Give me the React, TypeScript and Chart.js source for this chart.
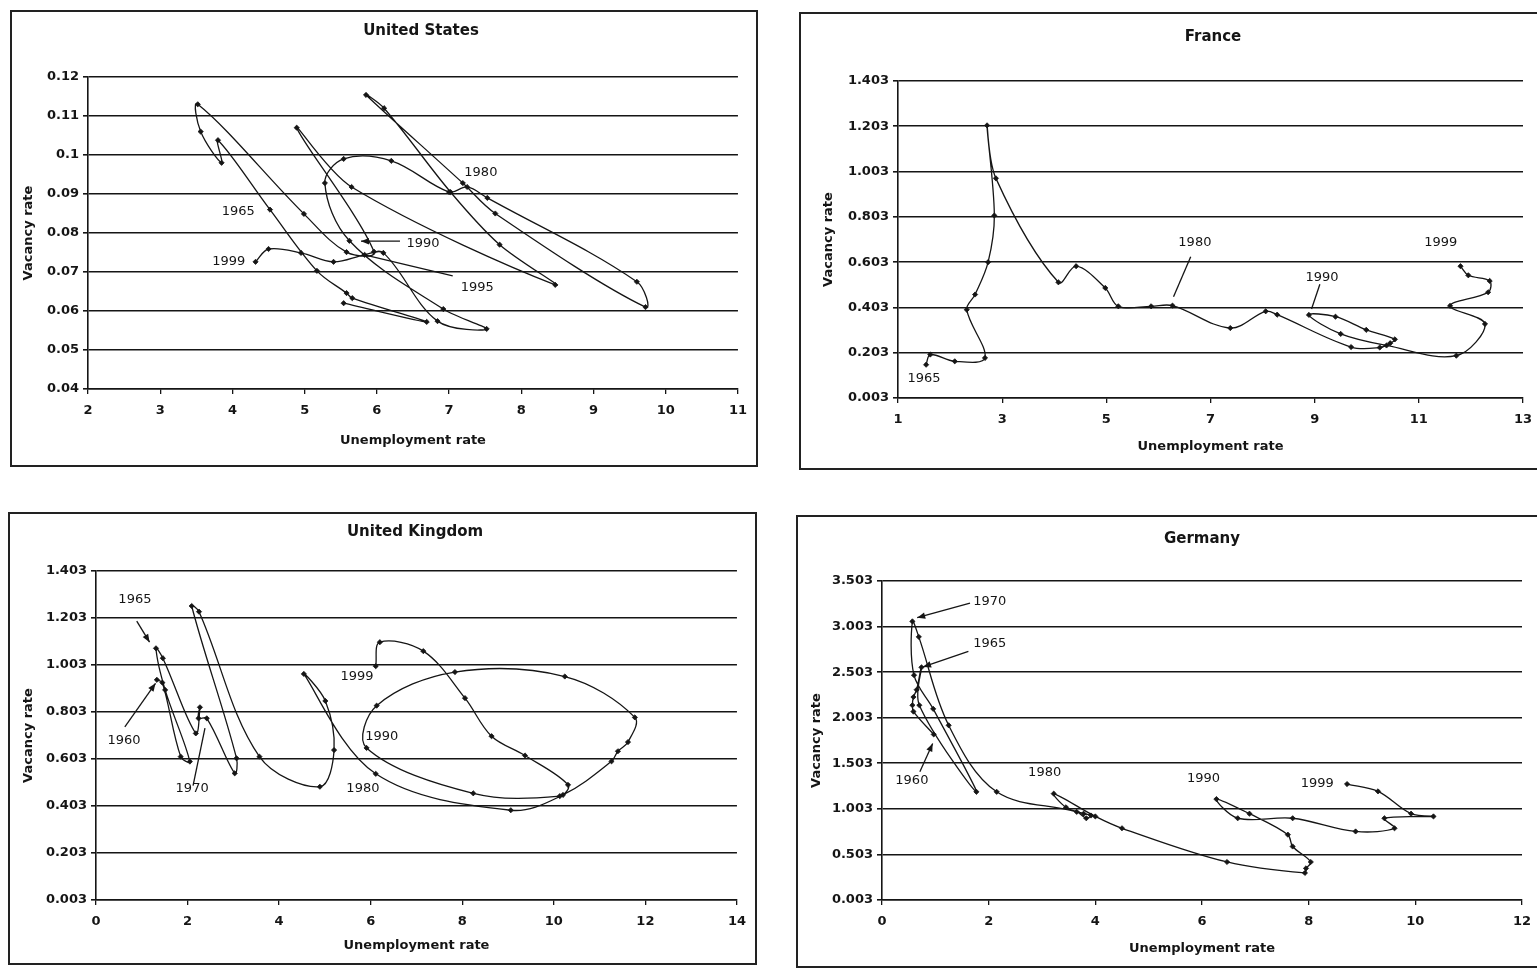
import React, { useEffect, useRef } from 'react';
import { Chart, registerables } from 'chart.js';

Chart.register(...registerables);

const FONT = '"DejaVu Sans", "Liberation Sans", sans-serif';
const INK = '#151515';

// ---------------- United States ----------------
const US_UNEMP = [5.54, 6.69, 5.66, 5.58, 5.17, 4.52, 3.80, 3.85, 3.56, 3.52, 4.99, 5.58, 5.96, 4.89, 5.65, 8.47, 7.70, 7.02, 6.10, 5.85, 7.19, 7.64, 9.72, 9.60, 7.53, 7.25, 7.00, 6.20, 5.54, 5.28, 5.62, 6.92, 7.52, 6.84, 6.09, 5.83, 5.40, 4.95, 4.50, 4.32];
const US_VAC = [0.062, 0.0572, 0.0633, 0.0646, 0.0703, 0.086, 0.1038, 0.098, 0.106, 0.113, 0.0849, 0.0751, 0.0752, 0.107, 0.0918, 0.0667, 0.077, 0.0905, 0.112, 0.1154, 0.0928, 0.085, 0.061, 0.0675, 0.089, 0.0918, 0.0905, 0.0985, 0.099, 0.0928, 0.078, 0.0605, 0.0554, 0.0574, 0.0749, 0.0744, 0.0726, 0.0749, 0.0759, 0.0726];
const US_X_TICKS = [2, 3, 4, 5, 6, 7, 8, 9, 10, 11];
const US_Y_TICKS = [0.04, 0.05, 0.06, 0.07, 0.08, 0.09, 0.1, 0.11, 0.12];
const US_Y_LABELS = ['0.04', '0.05', '0.06', '0.07', '0.08', '0.09', '0.1', '0.11', '0.12'];
const US_NOTES = [
  { t: '1965', x: 4.08, y: 0.0856 },
  { t: '1999', x: 3.95, y: 0.0726 },
  { t: '1980', x: 7.44, y: 0.0954 },
  { t: '1990', x: 6.64, y: 0.0774, line: [6.32, 0.0779, 5.78, 0.0779], head: true },
  { t: '1995', x: 7.39, y: 0.0659, line: [7.05, 0.0690, 5.80, 0.0745] },
];

// ---------------- France ----------------
const FR_UNEMP = [1.54, 1.62, 2.09, 2.67, 2.32, 2.48, 2.73, 2.85, 2.71, 2.88, 4.08, 4.42, 4.98, 5.23, 5.86, 6.27, 7.38, 8.06, 8.28, 9.70, 10.25, 10.45, 10.54, 9.99, 9.40, 8.89, 9.50, 10.38, 11.72, 12.27, 11.60, 12.33, 12.36, 11.95, 11.80];
const FR_VAC = [0.150, 0.195, 0.165, 0.180, 0.393, 0.460, 0.603, 0.809, 1.207, 0.973, 0.514, 0.585, 0.489, 0.408, 0.408, 0.411, 0.312, 0.386, 0.371, 0.228, 0.226, 0.245, 0.262, 0.304, 0.362, 0.370, 0.286, 0.235, 0.190, 0.330, 0.410, 0.470, 0.520, 0.545, 0.585];
const FR_X_TICKS = [1, 3, 5, 7, 9, 11, 13];
const FR_Y_TICKS = [0.003, 0.203, 0.403, 0.603, 0.803, 1.003, 1.203, 1.403];
const FR_Y_LABELS = ['0.003', '0.203', '0.403', '0.603', '0.803', '1.003', '1.203', '1.403'];
const FR_NOTES = [
  { t: '1965', x: 1.50, y: 0.087 },
  { t: '1980', x: 6.70, y: 0.69, line: [6.62, 0.627, 6.29, 0.45] },
  { t: '1990', x: 9.14, y: 0.535, line: [9.10, 0.505, 8.94, 0.396] },
  { t: '1999', x: 11.42, y: 0.69 },
];

// ---------------- United Kingdom ----------------
const UK_UNEMP = [1.33, 1.45, 1.85, 2.05, 1.51, 1.31, 1.46, 2.18, 2.27, 2.24, 2.42, 3.03, 3.07, 2.09, 2.25, 3.57, 4.89, 5.20, 5.01, 4.54, 6.11, 9.06, 10.20, 11.26, 11.40, 11.62, 11.77, 10.24, 7.84, 6.13, 5.91, 8.24, 10.13, 10.31, 9.37, 8.64, 8.06, 7.15, 6.20, 6.11];
const UK_VAC = [0.940, 0.928, 0.613, 0.592, 0.897, 1.074, 1.032, 0.712, 0.823, 0.776, 0.776, 0.542, 0.606, 1.254, 1.230, 0.613, 0.485, 0.641, 0.850, 0.965, 0.540, 0.385, 0.450, 0.593, 0.636, 0.675, 0.780, 0.954, 0.973, 0.830, 0.650, 0.457, 0.445, 0.493, 0.618, 0.700, 0.862, 1.062, 1.100, 0.998];
const UK_X_TICKS = [0, 2, 4, 6, 8, 10, 12, 14];
const UK_Y_TICKS = [0.003, 0.203, 0.403, 0.603, 0.803, 1.003, 1.203, 1.403];
const UK_Y_LABELS = ['0.003', '0.203', '0.403', '0.603', '0.803', '1.003', '1.203', '1.403'];
const UK_NOTES = [
  { t: '1965', x: 0.85, y: 1.28, line: [0.89, 1.19, 1.17, 1.10], head: true },
  { t: '1960', x: 0.61, y: 0.68, line: [0.63, 0.74, 1.30, 0.925], head: true },
  { t: '1970', x: 2.10, y: 0.475, line: [2.12, 0.49, 2.38, 0.734] },
  { t: '1999', x: 5.70, y: 0.952 },
  { t: '1990', x: 6.24, y: 0.697 },
  { t: '1980', x: 5.83, y: 0.475 },
];

// ---------------- Germany ----------------
const DE_UNEMP = [0.97, 0.59, 0.57, 0.59, 0.65, 0.74, 0.70, 1.77, 0.96, 0.60, 0.57, 0.69, 1.25, 2.15, 3.65, 3.83, 3.92, 3.78, 3.45, 3.22, 4.00, 4.50, 6.47, 7.93, 7.95, 8.04, 7.70, 7.61, 6.89, 6.27, 6.67, 7.70, 8.88, 9.61, 9.42, 10.34, 9.92, 9.30, 8.72];
const DE_VAC = [1.82, 2.07, 2.14, 2.23, 2.31, 2.556, 2.14, 1.19, 2.10, 2.47, 3.06, 2.89, 1.92, 1.19, 0.97, 0.90, 0.93, 0.95, 1.02, 1.17, 0.92, 0.79, 0.42, 0.30, 0.35, 0.42, 0.59, 0.72, 0.95, 1.11, 0.90, 0.90, 0.755, 0.79, 0.90, 0.92, 0.95, 1.195, 1.275];
const DE_X_TICKS = [0, 2, 4, 6, 8, 10, 12];
const DE_Y_TICKS = [0.003, 0.503, 1.003, 1.503, 2.003, 2.503, 3.003, 3.503];
const DE_Y_LABELS = ['0.003', '0.503', '1.003', '1.503', '2.003', '2.503', '3.003', '3.503'];
const DE_NOTES = [
  { t: '1970', x: 2.02, y: 3.28, line: [1.65, 3.26, 0.66, 3.10], head: true },
  { t: '1965', x: 2.02, y: 2.82, line: [1.62, 2.73, 0.77, 2.56], head: true },
  { t: '1960', x: 0.56, y: 1.31, line: [0.71, 1.41, 0.95, 1.72], head: true },
  { t: '1980', x: 3.05, y: 1.40 },
  { t: '1990', x: 6.03, y: 1.34 },
  { t: '1999', x: 8.16, y: 1.28 },
];

type Note = { t: string; x: number; y: number; line?: number[]; head?: boolean };

interface Layout {
  box: { left: number; top: number; width: number; height: number };
  area: { left: number; top: number; right: number; bottom: number };
  titleX: number; titleY: number; xTitleY: number; yTitleX: number;
}

interface Spec {
  title: string;
  u: number[]; v: number[];
  xTicks: number[]; yTicks: number[]; yLabels: string[];
  notes: Note[];
  layout: Layout;
}

const BORDER = 2;

const PANELS: Spec[] = [
  {
    title: 'United States', u: US_UNEMP, v: US_VAC, xTicks: US_X_TICKS, yTicks: US_Y_TICKS, yLabels: US_Y_LABELS, notes: US_NOTES,
    layout: { box: { left: 10, top: 10, width: 748, height: 457 }, area: { left: 88, top: 77, right: 738, bottom: 389 }, titleX: 421, titleY: 31, xTitleY: 441, yTitleX: 29 },
  },
  {
    title: 'France', u: FR_UNEMP, v: FR_VAC, xTicks: FR_X_TICKS, yTicks: FR_Y_TICKS, yLabels: FR_Y_LABELS, notes: FR_NOTES,
    layout: { box: { left: 799, top: 12, width: 745, height: 458 }, area: { left: 898, top: 81, right: 1523, bottom: 398 }, titleX: 1213, titleY: 37, xTitleY: 447, yTitleX: 829 },
  },
  {
    title: 'United Kingdom', u: UK_UNEMP, v: UK_VAC, xTicks: UK_X_TICKS, yTicks: UK_Y_TICKS, yLabels: UK_Y_LABELS, notes: UK_NOTES,
    layout: { box: { left: 8, top: 512, width: 749, height: 453 }, area: { left: 96, top: 571, right: 737, bottom: 900 }, titleX: 415, titleY: 532, xTitleY: 946, yTitleX: 29 },
  },
  {
    title: 'Germany', u: DE_UNEMP, v: DE_VAC, xTicks: DE_X_TICKS, yTicks: DE_Y_TICKS, yLabels: DE_Y_LABELS, notes: DE_NOTES,
    layout: { box: { left: 796, top: 515, width: 748, height: 453 }, area: { left: 882, top: 581, right: 1522, bottom: 900 }, titleX: 1202, titleY: 539, xTitleY: 949, yTitleX: 817 },
  },
];

function textPlugin(spec: Spec, ox: number, oy: number) {
  return {
    id: 'panelText',
    afterDatasetsDraw(chart: any) {
      const ctx = chart.ctx;
      const xs = chart.scales.x;
      const ys = chart.scales.y;
      ctx.save();
      ctx.fillStyle = INK;
      ctx.strokeStyle = INK;
      ctx.lineWidth = 1.3;
      ctx.font = `13px ${FONT}`;
      ctx.textAlign = 'center';
      ctx.textBaseline = 'middle';
      for (const n of spec.notes) {
        ctx.fillText(n.t, xs.getPixelForValue(n.x), ys.getPixelForValue(n.y));
        if (n.line) {
          const x1 = xs.getPixelForValue(n.line[0]);
          const y1 = ys.getPixelForValue(n.line[1]);
          const x2 = xs.getPixelForValue(n.line[2]);
          const y2 = ys.getPixelForValue(n.line[3]);
          ctx.beginPath();
          ctx.moveTo(x1, y1);
          ctx.lineTo(x2, y2);
          ctx.stroke();
          if (n.head) {
            const a = Math.atan2(y2 - y1, x2 - x1);
            const L = 8, W = 3.2;
            ctx.beginPath();
            ctx.moveTo(x2, y2);
            ctx.lineTo(x2 - L * Math.cos(a) + W * Math.sin(a), y2 - L * Math.sin(a) - W * Math.cos(a));
            ctx.lineTo(x2 - L * Math.cos(a) - W * Math.sin(a), y2 - L * Math.sin(a) + W * Math.cos(a));
            ctx.closePath();
            ctx.fill();
          }
        }
      }
      ctx.font = `bold 15px ${FONT}`;
      ctx.fillText(spec.title, spec.layout.titleX - ox, spec.layout.titleY - oy);
      ctx.restore();
    },
  };
}

function Panel({ spec }: { spec: Spec }) {
  const ref = useRef<HTMLCanvasElement | null>(null);
  const L = spec.layout;
  const ox = L.box.left + BORDER;
  const oy = L.box.top + BORDER;
  const W = L.box.width - 2 * BORDER;
  const H = L.box.height - 2 * BORDER;

  useEffect(() => {
    const canvas = ref.current;
    if (!canvas) return;
    const area = {
      left: L.area.left - ox,
      top: L.area.top - oy,
      right: L.area.right - ox,
      bottom: L.area.bottom - oy,
    };
    const axisTitleLH = 13 * 1.2;
    const tickFont = { family: FONT, size: 13, weight: 'bold' as const };
    const titleFont = { family: FONT, size: 13, weight: 'bold' as const };
    const chart = new Chart(canvas, {
      type: 'scatter',
      data: {
        datasets: [
          {
            data: spec.u.map((x, i) => ({ x, y: spec.v[i] })),
            showLine: true,
            borderColor: INK,
            borderWidth: 1.3,
            tension: 0.35,
            pointStyle: 'rectRot',
            pointRadius: 2.6,
            pointBackgroundColor: INK,
            pointBorderColor: INK,
            pointBorderWidth: 0.8,
            fill: false,
          } as any,
        ],
      },
      options: {
        responsive: false,
        maintainAspectRatio: false,
        animation: false,
        events: [],
        layout: { padding: { left: 0, top: area.top, right: W - area.right, bottom: 0 } },
        plugins: {
          legend: { display: false },
          tooltip: { enabled: false },
          title: { display: false },
        },
        scales: {
          x: {
            type: 'linear',
            min: spec.xTicks[0],
            max: spec.xTicks[spec.xTicks.length - 1],
            afterBuildTicks: (s: any) => {
              s.ticks = spec.xTicks.map((value) => ({ value }));
            },
            afterFit: (s: any) => {
              s.height = H - area.bottom;
            },
            ticks: {
              font: tickFont,
              color: INK,
              padding: 9,
              maxRotation: 0,
              autoSkip: false,
              callback: (v: any) => String(v),
            },
            grid: { drawOnChartArea: false, drawTicks: true, tickLength: 5, color: INK, lineWidth: 1.3 },
            border: { display: true, color: INK, width: 1.6 },
            title: {
              display: true,
              text: 'Unemployment rate',
              font: titleFont,
              color: INK,
              padding: { top: 0, bottom: H - (L.xTitleY - oy) - axisTitleLH / 2 },
            },
          },
          y: {
            type: 'linear',
            min: spec.yTicks[0],
            max: spec.yTicks[spec.yTicks.length - 1],
            afterBuildTicks: (s: any) => {
              s.ticks = spec.yTicks.map((value) => ({ value }));
            },
            afterFit: (s: any) => {
              s.width = area.left;
            },
            ticks: {
              font: tickFont,
              color: INK,
              padding: 4,
              autoSkip: false,
              callback: (_v: any, i: number) => spec.yLabels[i],
            },
            grid: { color: INK, lineWidth: 1.6, drawTicks: true, tickLength: 5 },
            border: { display: true, color: INK, width: 1.6 },
            title: {
              display: true,
              text: 'Vacancy rate',
              font: titleFont,
              color: INK,
              padding: { top: (L.yTitleX - ox) - axisTitleLH / 2, bottom: 0 },
            },
          },
        },
      } as any,
      plugins: [textPlugin(spec, ox, oy)],
    });
    return () => chart.destroy();
  }, [spec]);

  return (
    <div
      style={{
        position: 'absolute',
        left: L.box.left,
        top: L.box.top,
        width: L.box.width,
        height: L.box.height,
        boxSizing: 'border-box',
        border: `${BORDER}px solid #222`,
        background: '#fff',
      }}
    >
      <canvas ref={ref} width={W} height={H} style={{ display: 'block', width: W, height: H }} />
    </div>
  );
}

export default function App() {
  return (
    <div
      style={{
        position: 'fixed',
        left: 0,
        top: 0,
        width: 1537,
        height: 970,
        overflow: 'hidden',
        background: '#fff',
      }}
    >
      {PANELS.map((p) => (
        <Panel key={p.title} spec={p} />
      ))}
    </div>
  );
}
